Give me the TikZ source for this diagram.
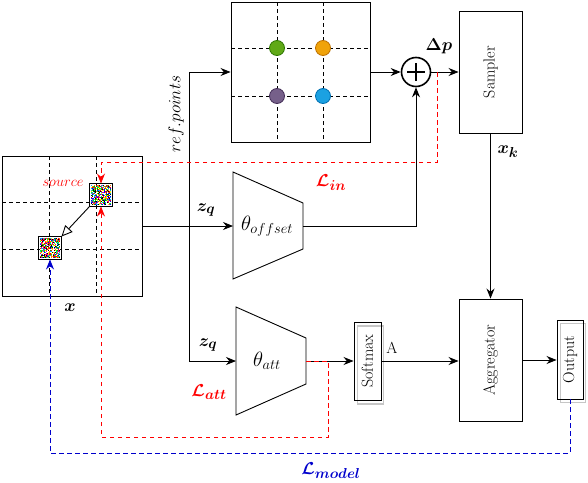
\documentclass[tikz,border=0pt]{standalone}
\usepackage{amsmath,bm}
\usetikzlibrary{arrows.meta,calc}
\definecolor{dgreen}{HTML}{60A917}\definecolor{dgreenD}{HTML}{2D7600}
\definecolor{dorange}{HTML}{F0A30A}\definecolor{dorangeD}{HTML}{BD7000}
\definecolor{dpurple}{HTML}{76608A}\definecolor{dpurpleD}{HTML}{432D57}
\definecolor{dblue}{HTML}{1BA1E2}\definecolor{dblueD}{HTML}{006EAF}
\definecolor{lossblue}{HTML}{0000CC}
\pgfmathdeclarerandomlist{noisecols}{{red}{green}{blue}{cyan}{magenta}{yellow}{white}{black}{white}{white}{green!60!black}{orange}}
\newcommand{\noisepatch}[1]{%
  \foreach \i in {0,...,19}{\foreach \j in {0,...,19}{%
    \pgfmathrandomitem{\cc}{noisecols}%
    \fill[\cc] ($(#1.north west)+(1+\i,1+\j)$) rectangle ++(1,1);}}%
  \draw[line width=1.3pt] (#1.north west) rectangle (#1.south east);}
\begin{document}
\begin{tikzpicture}[x=1pt,y=-1pt, line width=0.9pt,
  >={Stealth[length=10pt,width=8pt]},
  boxtext/.style={font=\fontsize{16}{18}\selectfont},
  lbl/.style={font=\fontsize{19}{21}\selectfont},
  big/.style={font=\fontsize{21}{23}\selectfont},
  blk/.style={draw, inner sep=0pt},
  grd/.style={dashed, line width=0.8pt, dash pattern=on 4pt off 3pt},
  loss/.style={dashed, line width=0.9pt, dash pattern=on 4.5pt off 3.5pt},
  dot/.style={circle, minimum size=15pt, inner sep=0pt, line width=0.8pt},
  shadowbox/.style={draw=gray!45, line width=1.2pt, inner sep=0pt},
  patch/.style={minimum size=22pt, inner sep=0pt}]
\useasboundingbox (0,0) rectangle (588,482);
\pgfmathsetseed{7}
% left image
\node[blk, minimum width=140pt, minimum height=140pt] (xbox) at (72,226) {};
\draw[grd] (49,156) -- (49,296); \draw[grd] (96,156) -- (96,296);
\draw[grd] (2,202) -- (142,202); \draw[grd] (2,249) -- (142,249);
\node[patch] (src) at (101,195) {};
\node[patch] (tgt) at (50,248) {};
\noisepatch{src}
\noisepatch{tgt}
\draw[-{Triangle[open,length=11pt,width=10pt]}] (src.south west) -- (tgt.north east);
\node[text=red, font=\fontsize{15}{17}\selectfont] (srclbl) at (63,183) {$source$};
\node[lbl] (xlbl) at (70,308) {$\bm{x}$};
% reference grid
\node[blk, minimum width=139pt, minimum height=140pt] (grid) at (300.5,72) {};
\draw[grd] (277,2) -- (277,142); \draw[grd] (323,2) -- (323,142);
\draw[grd] (231,48) -- (370,48); \draw[grd] (231,96) -- (370,96);
\node[dot, fill=dgreen, draw=dgreenD] (d1) at (277,48) {};
\node[dot, fill=dorange, draw=dorangeD] (d2) at (323,48) {};
\node[dot, fill=dpurple, draw=dpurpleD] (d3) at (277,96) {};
\node[dot, fill=dblue, draw=dblueD] (d4) at (323,96) {};
% plus
\node[circle, draw, line width=1.6pt, minimum size=29pt, inner sep=0pt] (plus) at (416,72) {};
\draw[line width=1.6pt] ($(plus.center)+(-9,0)$) -- ($(plus.center)+(9,0)$);
\draw[line width=1.6pt] ($(plus.center)+(0,-9)$) -- ($(plus.center)+(0,9)$);
% boxes
\node[blk, minimum width=63pt, minimum height=122pt] (sampler) at (490.5,72) {\rotatebox{90}{\fontsize{16}{18}\selectfont Sampler}};
\node[blk, minimum width=63pt, minimum height=122pt] (aggr) at (490.5,360) {\rotatebox{90}{\fontsize{16}{18}\selectfont Aggregator}};
\node[shadowbox, minimum width=26pt, minimum height=78pt] (softsh) at (370.5,365) {};
\node[blk, minimum width=27pt, minimum height=78pt] (softmax) at (367.5,361) {\rotatebox{90}{\fontsize{16}{18}\selectfont Softmax}};
\node[shadowbox, minimum width=25pt, minimum height=79pt] (outsh) at (573,363) {};
\node[blk, minimum width=26pt, minimum height=79pt] (output) at (570,359.5) {\rotatebox{90}{\fontsize{16}{18}\selectfont Output}};
% trapezia
\draw (233,172) -- (303,203) -- (303,249) -- (233,279) -- cycle;
\coordinate (thoffL) at (233,226); \coordinate (thoffR) at (303,226);
\node[big] (thoff) at (267,226) {$\theta_{offset}$};
\draw (236,307) -- (306,338) -- (306,384) -- (236,415) -- cycle;
\coordinate (thattL) at (236,361); \coordinate (thattR) at (306,361);
\node[big] (thatt) at (267,361) {$\theta_{att}$};
% connectors
\coordinate (br) at (189,226);
\coordinate (brtop) at (189,72);
\coordinate (brbot) at (189,361);
\draw[->] (xbox.east) -- (thoffL);
\draw[->] (br) -- (brtop) -- (grid.west);
\draw[->] (br) -- (brbot) -- (thattL);
\draw[->] (grid.east) -- (plus.west);
\draw[->] (plus.east) -- (sampler.west);
\draw[->] (thoffR) -| (plus.south);
\draw[->] (thattR) -- (softmax.west);
\draw[->] (softmax.east) -- (softmax.east -| aggr.west);
\draw[->] (sampler.south) -- (aggr.north);
\draw[->] (aggr.east) -- (aggr.east -| output.west);
% losses
\coordinate (linS) at (437,72);
\coordinate (linA) at (437,162);
\draw[loss, red, ->] (linS) -- (linA) -| (src.north);
\coordinate (lattA) at (328,361);
\coordinate (lattB) at (328,437);
\draw[loss, red, ->] (thattR) -- (lattA) -- (lattB) -| (src.south);
\coordinate (lmA) at (570,453);
\draw[loss, lossblue, ->] (output.south) -- (lmA) -| (tgt.south);
% labels
\node[font=\fontsize{17.5}{20}\selectfont, rotate=90] (refp) at (176,114) {$ref.points$};
\node[lbl] (zq1) at (206,210) {$\bm{z_q}$};
\node[lbl] (zq2) at (208,345) {$\bm{z_q}$};
\node[lbl] (dp) at (439,46) {$\bm{\Delta p}$};
\node[lbl] (xk) at (508,152) {$\bm{x_k}$};
\node[boxtext] (A) at (392,348) {A};
\node[lbl, text=red] (Lin) at (331,183) {$\bm{\mathcal{L}_{in}}$};
\node[lbl, text=red] (Latt) at (209,392) {$\bm{\mathcal{L}_{att}}$};
\node[lbl, text=lossblue] (Lmod) at (331,471) {$\bm{\mathcal{L}_{model}}$};
\end{tikzpicture}
\end{document}
